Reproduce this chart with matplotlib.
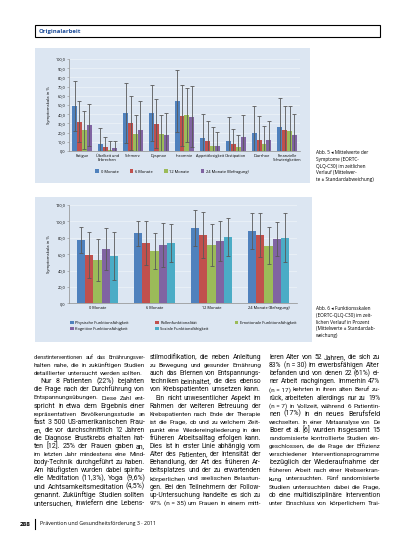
import matplotlib
matplotlib.use("Agg")
import matplotlib.pyplot as plt
import numpy as np
from matplotlib.patches import Rectangle
from matplotlib.ticker import FuncFormatter
from matplotlib.font_manager import FontProperties, findfont

plt.rcParams['font.family'] = ['Open Sans', 'DejaVu Sans']

W, H = 413, 550

# --- Abb. 5: Symptomskalen ---
symptoms = ["Fatigue", "Übelkeit und\nErbrechen", "Schmerz", "Dyspnoe", "Insomnie",
            "Appetitlosigkeit", "Obstipation", "Diarrhoe", "Finanzielle\nSchwierigkeiten"]
times_top = ["0 Monate", "6 Monate", "12 Monate", "24 Monate (Befragung)"]
sym_mean = [
    [48.9, 7.6, 41.3, 41.3, 54.3, 14.5, 10.9, 19.9, 26.1],
    [31.9, 4.3, 30.4, 29.7, 38.4, 10.9, 8.0, 12.0, 23.2],
    [22.8, 0.7, 18.1, 18.1, 39.1, 5.8, 4.7, 8.0, 21.7],
    [28.3, 3.3, 23.2, 17.8, 37.3, 5.4, 15.2, 12.0, 17.8],
]
sym_sd = [
    [27.1, 17.0, 32.3, 30.4, 33.7, 25.4, 26.1, 29.0, 31.9],
    [22.1, 10.9, 29.0, 26.8, 33.3, 21.7, 15.9, 26.0, 25.7],
    [20.7, 10.2, 21.0, 21.0, 29.0, 20.3, 12.7, 19.2, 27.2],
    [22.4, 7.6, 31.1, 23.1, 33.0, 14.9, 23.9, 20.6, 22.4],
]

# --- Abb. 6: Funktionsskalen ---
times_bottom = ["0 Monate", "6 Monate", "12 Monate", "24 Monate (Befragung)"]
functions = ["Physische Funktionsfähigkeit", "Rollenfunktionalität",
             "Emotionale Funktionsfähigkeit", "Kognitive Funktionsfähigkeit",
             "Soziale Funktionsfähigkeit"]
fun_mean = [
    [77.3, 85.4, 91.9, 88.3],
    [59.0, 73.6, 83.4, 83.4],
    [52.9, 63.9, 71.2, 70.4],
    [66.3, 71.2, 76.1, 78.5],
    [57.8, 73.6, 81.0, 80.1],
]
fun_sd = [
    [16.3, 15.1, 22.0, 21.5],
    [27.7, 26.9, 27.7, 26.4],
    [25.2, 21.5, 25.2, 22.4],
    [25.2, 26.4, 24.0, 20.4],
    [28.9, 22.8, 22.7, 29.7],
]

colors = ["#4F81BD", "#C0504D", "#9BBB59", "#8064A2", "#4BACC6"]
panel_col = "#DCE6F2"
err_col = "#595959"

fig = plt.figure(figsize=(W / 100, H / 100), dpi=100)


def fx(x):
    return x / W


def fy(y):
    return 1 - y / H


def page_axes(x0, y0, x1, y1):
    return fig.add_axes([fx(x0), fy(y1), fx(x1) - fx(x0), (y1 - y0) / H])


def panel(x0, y0, x1, y1):
    fig.add_artist(Rectangle((fx(x0), fy(y1)), fx(x1) - fx(x0), (y1 - y0) / H,
                             transform=fig.transFigure, facecolor=panel_col,
                             edgecolor="none", zorder=-1))


comma = FuncFormatter(lambda v, p: ("%.1f" % v).replace(".", ","))


def style_axes(ax, top, step, ylabel):
    ax.set_facecolor("none")
    ax.set_ylim(0, top)
    ax.set_yticks(np.arange(0, top + 0.1, step))
    ax.yaxis.set_major_formatter(comma)
    ax.yaxis.grid(True, color="#EEF3F9", lw=0.5)
    ax.set_axisbelow(True)
    for s in ["top", "right"]:
        ax.spines[s].set_visible(False)
    ax.spines["left"].set_color("#8C8C8C")
    ax.spines["bottom"].set_color("#8C8C8C")
    ax.spines["left"].set_linewidth(0.5)
    ax.spines["bottom"].set_linewidth(0.5)
    ax.tick_params(axis="y", labelsize=2.8, length=1.2, width=0.4, pad=1.5, colors="#8C8C8C",
                   labelcolor="black")
    ax.tick_params(axis="x", labelsize=2.8, length=0, pad=2)
    ax.set_ylabel(ylabel, fontsize=3.0, labelpad=3)


# header
fig.add_artist(Rectangle((fx(35), fy(37)), fx(380) - fx(35), 12 / H, transform=fig.transFigure,
                         facecolor="white", edgecolor="black", lw=0.8))
fig.text(fx(39), fy(31), "Originalarbeit", fontsize=4.3, fontweight="bold", color="#1F4E9A",
         va="center")

# top chart
panel(35, 48, 310, 183)
ax1 = page_axes(69, 59, 300, 151)
n = len(times_top)
bw = 0.19
x = np.arange(len(symptoms))
for i in range(n):
    ax1.bar(x + (i - (n - 1) / 2) * bw, sym_mean[i], bw, yerr=sym_sd[i], color=colors[i],
            label=times_top[i], error_kw=dict(ecolor=err_col, elinewidth=0.6, capsize=1.3,
                                               capthick=0.6))
ax1.set_xlim(-0.5, len(symptoms) - 0.5)
ax1.set_xticks(x)
ax1.set_xticklabels(symptoms)
style_axes(ax1, 100, 10, "Symptomskala in %")
ax1.legend(loc="center", bbox_to_anchor=(fx(172), fy(171.5)), bbox_transform=fig.transFigure,
           ncol=4, fontsize=2.9, frameon=False, handlelength=0.9, handleheight=0.9,
           columnspacing=2.8, handletextpad=0.4)

# bottom chart
panel(35, 197, 312, 342)
ax2 = page_axes(69, 205, 297, 303.3)
m = len(functions)
bw2 = 0.143
x2 = np.arange(len(times_bottom))
bars = []
for i in range(m):
    b = ax2.bar(x2 + (i - (m - 1) / 2) * bw2, fun_mean[i], bw2, yerr=fun_sd[i], color=colors[i],
                label=functions[i], error_kw=dict(ecolor=err_col, elinewidth=0.6, capsize=1.5,
                                                   capthick=0.6))
    bars.append(b)
ax2.set_xlim(-0.5, len(times_bottom) - 0.5)
ax2.set_xticks(x2)
ax2.set_xticklabels(times_bottom)
style_axes(ax2, 120, 20, "Symptomskala in %")
order = [0, 3, 1, 4, 2]
ax2.legend([bars[k] for k in order], [functions[k] for k in order], loc="upper left",
           bbox_to_anchor=(fx(68), fy(318.5)), bbox_transform=fig.transFigure, ncol=3,
           fontsize=2.9, frameon=False, handlelength=0.9, handleheight=0.9,
           columnspacing=6.5, handletextpad=0.4, labelspacing=0.5, borderpad=0)

# captions
cap5 = ["Abb. 5 ◂ Mittelwerte der", "Symptome (EORTC-", "QLQ-C30) im zeitlichen",
        "Verlauf (Mittelwer-", "te ± Standardabweichung)"]
cap6 = ["Abb. 6 ◂ Funktionsskalen", "(EORTC-QLQ-C30) im zeit-", "lichen Verlauf in Prozent",
        "(Mittelwerte ± Standardab-", "weichung)"]
for k, line in enumerate(cap5):
    fig.text(fx(316), fy(153 + k * 6.6), line, fontsize=3.4, va="center")
for k, line in enumerate(cap6):
    fig.text(fx(316), fy(309 + k * 6.6), line, fontsize=3.4, va="center")

# body text (lines ending a paragraph are marked with a trailing "|")
col1 = ["dienstinterventionen auf das Ernährungsver-",
        "halten nahe, die in zukünftigen Studien",
        "detaillierter untersucht werden sollten.|",
        "   Nur 8 Patienten (22%) bejahten",
        "die Frage nach der Durchführung von",
        "Entspannungsübungen. Diese Zahl ent-",
        "spricht in etwa dem Ergebnis einer",
        "repräsentativen Bevölkerungsstudie an",
        "fast 3\u00a0500 US-amerikanischen Frau-",
        "en, die vor durchschnittlich 12 Jahren",
        "die Diagnose Brustkrebs erhalten hat-",
        "ten [12]. 25% der Frauen gaben an,",
        "im letzten Jahr mindestens eine Mind-",
        "body-Technik durchgeführt zu haben.",
        "Am häufigsten wurden dabei spiritu-",
        "elle Meditation (11,3%), Yoga (9,6%)",
        "und Achtsamkeitsmeditation (4,5%)",
        "genannt. Zukünftige Studien sollten",
        "untersuchen, inwiefern eine Lebens-"]
col2 = ["stilmodifikation, die neben Anleitung",
        "zu Bewegung und gesunder Ernährung",
        "auch das Erlernen von Entspannungs-",
        "techniken beinhaltet, die dies ebenso",
        "von Krebspatienten umsetzen kann.|",
        "   Ein nicht unwesentlicher Aspekt im",
        "Rahmen der weiteren Betreuung der",
        "Krebspatienten nach Ende der Therapie",
        "ist die Frage, ob und zu welchem Zeit-",
        "punkt eine Wiedereingliederung in den",
        "früheren Arbeitsalltag erfolgen kann.",
        "Dies ist in erster Linie abhängig vom",
        "Alter des Patienten, der Intensität der",
        "Behandlung, der Art des früheren Ar-",
        "beitsplatzes und der zu erwartenden",
        "körperlichen und seelischen Belastun-",
        "gen. Bei den Teilnehmern der Follow-",
        "up-Untersuchung handelte es sich zu",
        "97% (n\u00a0=\u00a035) um Frauen in einem mitt-"]
col3 = ["leren Alter von 52 Jahren, die sich zu",
        "83% (n\u00a0=\u00a030) im erwerbsfähigen Alter",
        "befanden und von denen 22 (61%) ei-",
        "ner Arbeit nachgingen. Immerhin 47%",
        "(n\u00a0=\u00a017) kehrten in ihren alten Beruf zu-",
        "rück, arbeiteten allerdings nur zu 19%",
        "(n\u00a0=\u00a07) in Vollzeit, während 6 Patientin-",
        "nen (17%) in ein neues Berufsfeld",
        "wechselten. In einer Metaanalyse von De",
        "Boer et al. [6] wurden insgesamt 15",
        "randomisierte kontrollierte Studien ein-",
        "geschlossen, die die Frage der Effizienz",
        "verschiedener Interventionsprogramme",
        "bezüglich der Wiederaufnahme der",
        "früheren Arbeit nach einer Krebserkran-",
        "kung untersuchten. Fünf randomisierte",
        "Studien untersuchten dabei die Frage,",
        "ob eine multidisziplinäre Intervention",
        "unter Einschluss von körperlichem Trai-"]

# narrow face for the running text if it is there, else Roboto
body_family = ['Roboto', 'DejaVu Sans']
try:
    findfont('Liberation Sans Narrow', fallback_to_default=False)
    body_family = ['Liberation Sans Narrow', 'DejaVu Sans']
except Exception:
    pass

renderer = fig.canvas.get_renderer()
body_size = 5.0
col_w = 111


def text_w(s, size):
    prop = FontProperties(family=body_family, size=size)
    w, h, d = renderer.get_text_width_height_descent(s, prop, ismath=False)
    return w


def justified(cx, cy, line):
    last = line.endswith("|")
    line = line.rstrip("|")
    indent = 6 if line.startswith(" ") else 0
    words = [w for w in line.split(" ") if w]
    start = cx + indent
    avail = cx + col_w - start
    size = body_size
    full = text_w(" ".join(words), size)
    if full > avail:
        size = size * avail / full * 0.99
    widths = [text_w(w, size) for w in words]
    space = text_w("a a", size) - text_w("aa", size)
    if last or len(words) < 2:
        gap = space
    else:
        gap = (avail - sum(widths)) / (len(words) - 1)
    pos = start
    for w, ww in zip(words, widths):
        fig.text(fx(pos), fy(cy), w, fontsize=size, va="baseline", family=body_family,
                 color="#111111")
        pos += ww + gap


for cx, lines in [(34, col1), (150, col2), (269, col3)]:
    for k, line in enumerate(lines):
        justified(cx, 359 + k * 8.1, line)

# footer
fig.text(fx(20), fy(524), "288", fontsize=4.6, fontweight="bold", va="center")
fig.add_artist(plt.Line2D([fx(35), fx(35)], [fy(519), fy(529)], transform=fig.transFigure,
                          color="black", lw=0.8))
fig.text(fx(40), fy(524), "Prävention und Gesundheitsförderung 3 · 2011", fontsize=3.8,
         va="center")

fig.savefig("out.png", dpi=100)
